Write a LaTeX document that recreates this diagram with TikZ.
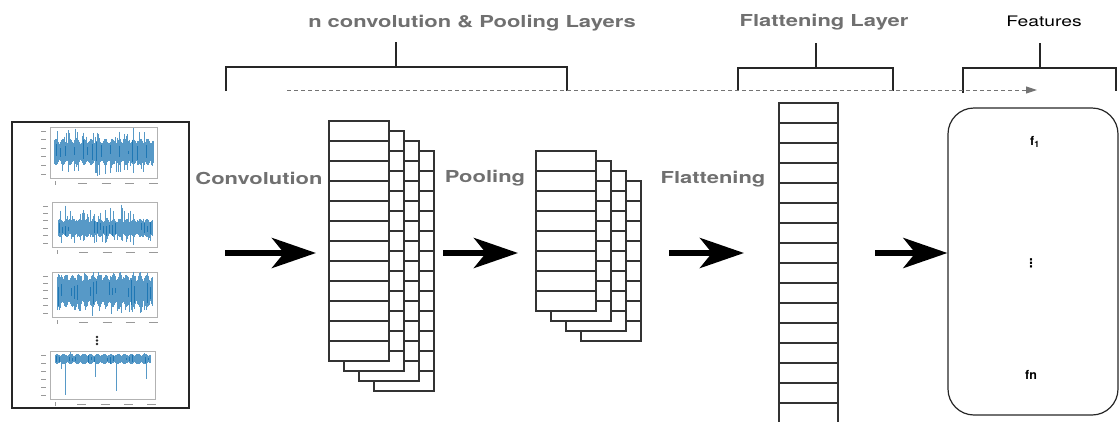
\documentclass[tikz,border=0pt]{standalone}
\usepackage{fontspec}
\setmainfont{TeX Gyre Heros}
\newfontfamily\widefont[FakeStretch=1.33]{TeX Gyre Heros}
\newfontfamily\symfont{DejaVu Sans}
\usetikzlibrary{arrows.meta}

\definecolor{sigblue}{RGB}{31,119,180}
\definecolor{labgray}{RGB}{112,112,112}

\tikzset{
  cell/.style={draw=black!80, line width=1.1pt, fill=white},
  bigarrow/.style={line width=6pt, -{Stealth[length=44pt,width=30pt,inset=12pt]}},
  dasharrow/.style={black!55, line width=1pt, dash pattern=on 4pt off 3pt, -{Triangle[length=11pt,width=7pt]}},
  brk/.style={black!85, line width=2.6pt},
  graytext/.style={font=\widefont\bfseries\fontsize{16.5}{18}\selectfont, text=labgray, inner sep=0pt, anchor=base},
  feattext/.style={font=\widefont\fontsize{14.5}{16}\selectfont, inner sep=0pt, anchor=base},
  ftext/.style={font=\bfseries\fontsize{12.5}{14}\selectfont, inner sep=0pt, anchor=base},
  sig/.style={sigblue, line width=0.5pt},
  spike/.style={sigblue!75, line width=0.35pt},
  tick/.style={black!40, line width=0.9pt}
}

% x0, y0, x1, y1 of a small plot frame
\newcommand{\sigframe}[4]{%
  \draw[black!30, line width=0.4pt] (#1,#2) rectangle (#3,#4);
  \foreach \t in {0,...,5} \draw[tick] (#1-9,{#2+4+\t*(#4-#2-8)/5}) -- ++(5,0);
  \foreach \t in {1,...,4} \draw[tick] ({#1+4+\t*(#3-#1-12)/4},#4+5) -- ++(9,0);
  \draw[tick] (#1+5,#4+3) -- ++(0,4);
}
% x0, x1, centre, half band, spike up, spike down, spike chance
\newcommand{\sigband}[7]{%
  \foreach \i in {0,...,220}{
    \pgfmathsetmacro{\sigx}{#1+\i/220*(#2-#1)}
    \pgfmathsetmacro{\sigenv}{0.82+0.18*sin(\i*23)}
    \pgfmathsetmacro{\sigup}{#4*\sigenv*(0.15+0.85*rnd)}
    \pgfmathsetmacro{\sigdn}{#4*\sigenv*(0.15+0.85*rnd)}
    \draw[sig] (\sigx,#3-\sigup) -- (\sigx,#3+\sigdn);
    \pgfmathsetmacro{\spkup}{#5*max(0,rnd-1+#7)/#7}
    \pgfmathsetmacro{\spkdn}{#6*max(0,rnd-1+#7)/#7}
    \draw[spike] (\sigx,#3-#4*\sigenv-\spkup) -- (\sigx,#3+#4*\sigenv+\spkdn);
  }
}
% left, top, width, number of cells
\newcommand{\cellstack}[4]{%
  \draw[cell] (#1,#2) rectangle ++(#3,#4*20);
  \foreach \k in {1,...,#4} \draw[black!80, line width=1.1pt] (#1,#2+\k*20) -- ++(#3,0);
}

\begin{document}
\begin{tikzpicture}[x=1pt, y=-1pt]
  \useasboundingbox (0,0) rectangle (1120,421);
  \pgfmathsetseed{11}

  % input signals
  \draw[black!85, line width=1.6pt] (12,122) rectangle (189,408);
  \sigframe{50}{127}{157}{178}
  \sigband{54}{153}{152}{13}{12}{12}{0.2}
  \sigframe{52}{202}{157}{247}
  \sigband{58}{152}{228}{9}{16}{8}{0.15}
  \sigframe{52}{272}{157}{317}
  \sigband{57}{152}{291}{16}{4}{10}{0.2}
  \sigframe{50}{351}{155}{399}
  \sigband{55}{150}{359}{5}{2}{34}{0.04}
  \foreach \d in {337,340.5,344} \fill[black!85] (97,\d) circle (1.4);

  % titles and brackets
  \node[graytext] (tconvpool) at (472,27) {n convolution \& Pooling Layers};
  \node[graytext] (tflatlayer) at (824,26) {Flattening Layer};
  \node[feattext] (tfeatures) at (1044,26) {Features};
  \draw[brk] (226,91) -- (226,67) -- (567,67) -- (567,91);
  \draw[brk] (396,67) -- (396,42);
  \draw[brk] (738,91) -- (738,68) -- (893,68) -- (893,91);
  \draw[brk] (816,68) -- (816,43);
  \draw[brk] (963,93) -- (963,68) -- (1116,68) -- (1116,91);
  \draw[brk] (1040,68) -- (1040,43);
  \coordinate (dstart) at (287,90);
  \coordinate (dend) at (1037,90);
  \draw[dasharrow] (dstart) -- (dend);

  % convolution maps
  \foreach \l in {3,2,1,0} {\cellstack{329+15*\l}{121+10*\l}{60}{12}}
  % pooling maps
  \foreach \l in {3,2,1,0} {\cellstack{536+15*\l}{151+10*\l}{60}{8}}
  % flattened vector
  \cellstack{779}{103}{59}{16}

  % features
  \node[draw=black!85, line width=1.2pt, rounded corners=26pt, minimum width=170pt, minimum height=307pt] (feat) at (1033,261.5) {};
  \node[ftext] (f1) at (1035,145) {f\textsubscript{1}};
  \node[ftext, font=\symfont\bfseries\fontsize{12}{14}\selectfont] (fdots) at (1031,267) {⋮};
  \node[ftext] (fn) at (1031,379) {fn};

  % step labels and arrows
  \node[graytext] (tconv) at (259,184) {Convolution};
  \node[graytext] (tpool) at (485,182) {Pooling};
  \node[graytext] (tflat) at (713,183) {Flattening};
  \coordinate (a1) at (225,253);
  \coordinate (b1) at (316,253);
  \coordinate (a2) at (443,253);
  \coordinate (b2) at (518,253);
  \coordinate (a3) at (669,253);
  \coordinate (b3) at (744,253);
  \coordinate (a4) at (875,253);
  \draw[bigarrow] (a1) -- (b1);
  \draw[bigarrow] (a2) -- (b2);
  \draw[bigarrow] (a3) -- (b3);
  \draw[bigarrow] (a4) -- (feat.west |- a4);
\end{tikzpicture}
\end{document}
